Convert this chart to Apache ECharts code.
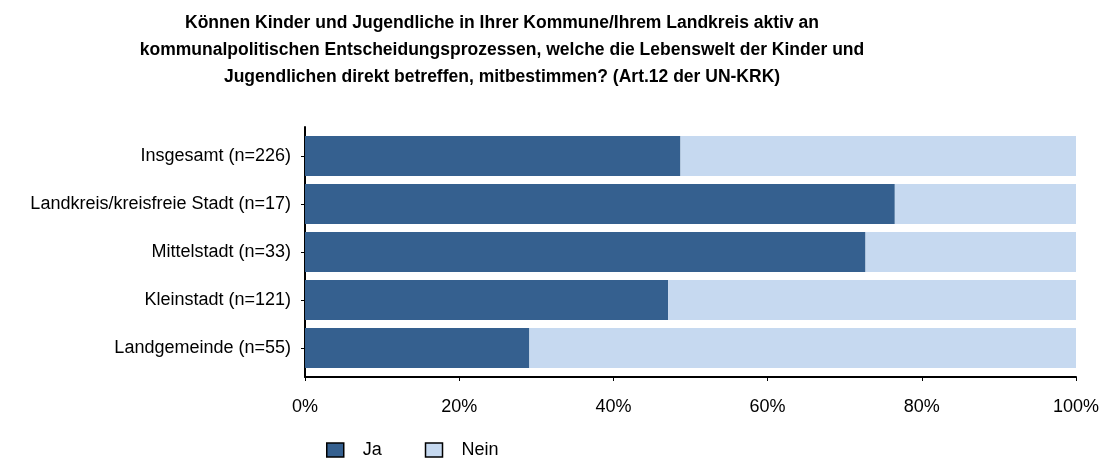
<!DOCTYPE html>
<html>
<head>
<meta charset="utf-8">
<script src="https://cdn.jsdelivr.net/npm/echarts@6/dist/echarts.min.js"></script>
<style>
  html, body { margin: 0; padding: 0; background: #fff; }
  #chart { width: 1108px; height: 461px; }
</style>
</head>
<body>
<div id="chart"></div>
<script>
var categories = ['Insgesamt (n=226)', 'Landkreis/kreisfreie Stadt (n=17)', 'Mittelstadt (n=33)', 'Kleinstadt (n=121)', 'Landgemeinde (n=55)'];
var jaValues = [48.7, 76.5, 72.7, 47.1, 29.1];
var neinValues = [51.3, 23.5, 27.3, 52.9, 70.9];
var xTicks = [0, 20, 40, 60, 80, 100];

var chartDom = document.getElementById('chart');
var chart = echarts.init(chartDom, null, { renderer: 'canvas' });
var fontName = '"Liberation Sans", Arial, sans-serif';

var option = {
    animation: false,
    title: {
        text: 'Können Kinder und Jugendliche in Ihrer Kommune/Ihrem Landkreis aktiv an\nkommunalpolitischen Entscheidungsprozessen, welche die Lebenswelt der Kinder und\nJugendlichen direkt betreffen, mitbestimmen? (Art.12 der UN-KRK)',
        left: 497,
        top: 5,
        textAlign: 'center',
        textStyle: {
            fontFamily: fontName,
            fontSize: 17.5,
            fontWeight: 'bold',
            color: '#000',
            lineHeight: 27
        }
    },
    legend: {
        left: 321,
        top: 436,
        icon: 'rect',
        itemWidth: 17,
        itemHeight: 14,
        itemGap: 43,
        itemStyle: { borderColor: '#000', borderWidth: 1.5 },
        textStyle: {
            fontFamily: fontName,
            fontSize: 18,
            color: '#000',
            padding: [0, 0, 0, 14]
        },
        data: ['Ja', 'Nein']
    },
    grid: [
        { left: 305, right: 32, top: 132, height: 240, outerBoundsMode: 'none' },
        { left: 305, right: 32, top: 127, height: 250, outerBoundsMode: 'none' }
    ],
    xAxis: [{
        type: 'value',
        gridIndex: 0,
        min: 0,
        max: 100,
        interval: 20,
        offset: 5,
        axisLine: { show: false },
        axisTick: { show: true, length: 4, lineStyle: { color: '#000' } },
        splitLine: { show: false },
        axisLabel: {
            fontFamily: fontName,
            fontSize: 18,
            color: '#000',
            margin: 21,
            formatter: function (v) { return xTicks.indexOf(v) >= 0 ? v + '%' : ''; }
        }
    }, {
        type: 'value',
        gridIndex: 1,
        min: 0,
        max: 100,
        axisLine: { show: true, lineStyle: { color: '#000', width: 2 } },
        axisTick: { show: false },
        axisLabel: { show: false },
        splitLine: { show: false }
    }],
    yAxis: [{
        type: 'category',
        gridIndex: 0,
        inverse: true,
        data: categories,
        axisLine: { show: false },
        axisTick: { show: true, alignWithLabel: true, length: 4, lineStyle: { color: '#000' } },
        axisLabel: {
            fontFamily: fontName,
            fontSize: 18,
            color: '#000',
            margin: 14
        }
    }, {
        type: 'value',
        gridIndex: 1,
        min: 0,
        max: 1,
        axisLine: { show: true, lineStyle: { color: '#000', width: 2 } },
        axisTick: { show: false },
        axisLabel: { show: false },
        splitLine: { show: false }
    }],
    series: [{
        name: 'Ja',
        type: 'bar',
        stack: 'total',
        xAxisIndex: 0,
        yAxisIndex: 0,
        barWidth: 40,
        itemStyle: { color: '#35608f' },
        data: jaValues
    }, {
        name: 'Nein',
        type: 'bar',
        stack: 'total',
        xAxisIndex: 0,
        yAxisIndex: 0,
        barWidth: 40,
        itemStyle: { color: '#c6d9f0' },
        data: neinValues
    }]
};

chart.setOption(option);
</script>
</body>
</html>
